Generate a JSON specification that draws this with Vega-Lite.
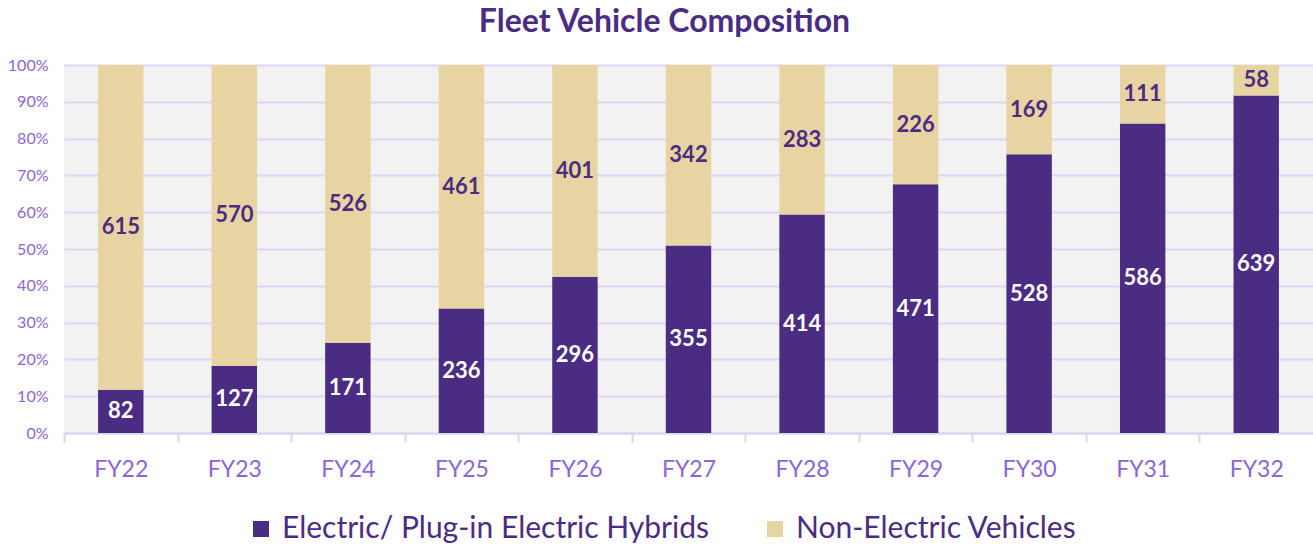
{
  "$schema": "https://vega.github.io/schema/vega-lite/v6.json",
  "width": 1249,
  "height": 368,
  "autosize": {"type": "none"},
  "padding": {"left": 64, "top": 65, "right": 0, "bottom": 112},
  "background": "white",
  "title": {
    "text": "Fleet Vehicle Composition",
    "font": "Lato",
    "fontSize": 32,
    "fontWeight": "bold",
    "color": "#4B2C83",
    "anchor": "middle",
    "dx": -24,
    "offset": 18
  },
  "config": {
    "view": {"fill": "#f2f2f2", "stroke": null},
    "font": "Lato"
  },
  "data": {
    "values": [
      {"year": "FY22", "type": "Electric/ Plug-in Electric Hybrids", "count": 82},
      {"year": "FY22", "type": "Non-Electric Vehicles", "count": 615},
      {"year": "FY23", "type": "Electric/ Plug-in Electric Hybrids", "count": 127},
      {"year": "FY23", "type": "Non-Electric Vehicles", "count": 570},
      {"year": "FY24", "type": "Electric/ Plug-in Electric Hybrids", "count": 171},
      {"year": "FY24", "type": "Non-Electric Vehicles", "count": 526},
      {"year": "FY25", "type": "Electric/ Plug-in Electric Hybrids", "count": 236},
      {"year": "FY25", "type": "Non-Electric Vehicles", "count": 461},
      {"year": "FY26", "type": "Electric/ Plug-in Electric Hybrids", "count": 296},
      {"year": "FY26", "type": "Non-Electric Vehicles", "count": 401},
      {"year": "FY27", "type": "Electric/ Plug-in Electric Hybrids", "count": 355},
      {"year": "FY27", "type": "Non-Electric Vehicles", "count": 342},
      {"year": "FY28", "type": "Electric/ Plug-in Electric Hybrids", "count": 414},
      {"year": "FY28", "type": "Non-Electric Vehicles", "count": 283},
      {"year": "FY29", "type": "Electric/ Plug-in Electric Hybrids", "count": 471},
      {"year": "FY29", "type": "Non-Electric Vehicles", "count": 226},
      {"year": "FY30", "type": "Electric/ Plug-in Electric Hybrids", "count": 528},
      {"year": "FY30", "type": "Non-Electric Vehicles", "count": 169},
      {"year": "FY31", "type": "Electric/ Plug-in Electric Hybrids", "count": 586},
      {"year": "FY31", "type": "Non-Electric Vehicles", "count": 111},
      {"year": "FY32", "type": "Electric/ Plug-in Electric Hybrids", "count": 639},
      {"year": "FY32", "type": "Non-Electric Vehicles", "count": 58}
    ]
  },
  "encoding": {
    "x": {
      "field": "year",
      "type": "nominal",
      "sort": null,
      "scale": {"paddingInner": 0.6, "paddingOuter": 0.3},
      "axis": {
        "title": null,
        "labelAngle": 0,
        "labelFont": "Lato",
        "labelFontSize": 23,
        "labelColor": "#8A66D6",
        "labelPadding": 16,
        "ticks": true,
        "tickSize": 9,
        "tickOffset": -56.75,
        "labelOffset": 56.75,
        "tickColor": "#dcd4ee",
        "tickWidth": 2,
        "domainColor": "#dcd4ee",
        "domainWidth": 2,
        "grid": false
      }
    }
  },
  "layer": [
    {
      "mark": {"type": "bar"},
      "encoding": {
        "y": {
          "field": "count",
          "type": "quantitative",
          "stack": "normalize",
          "scale": {"domain": [0, 1], "nice": false},
          "axis": {
            "title": null,
            "format": ".0%",
            "values": [0, 0.1, 0.2, 0.3, 0.4, 0.5, 0.6, 0.7, 0.8, 0.9, 1],
            "labelOverlap": false,
            "labelFont": "Lato",
            "labelFontSize": 16,
            "labelColor": "#8A66D6",
            "labelPadding": 16,
            "ticks": false,
            "domain": false,
            "grid": true,
            "gridColor": "#ddd5f0",
            "gridWidth": 2
          }
        },
        "order": {"field": "type", "sort": "ascending"},
        "color": {
          "field": "type",
          "type": "nominal",
          "scale": {
            "domain": ["Electric/ Plug-in Electric Hybrids", "Non-Electric Vehicles"],
            "range": ["#4B2C83", "#E8D4A2"]
          },
          "legend": {
            "title": null,
            "orient": "none",
            "direction": "horizontal",
            "legendX": 182,
            "legendY": 449,
            "symbolType": "square",
            "symbolSize": 256,
            "symbolStrokeWidth": 0,
            "symbolOpacity": 1,
            "labelFont": "Lato",
            "labelFontSize": 30,
            "labelColor": "#4B2C83",
            "labelOffset": 6,
            "columnPadding": 50,
            "labelLimit": 600
          }
        }
      }
    },
    {
      "transform": [
        {"stack": "count", "groupby": ["year"], "sort": [{"field": "type"}], "offset": "normalize", "as": ["y0", "y1"]},
        {"fold": ["y0", "y1"], "as": ["k", "v"]}
      ],
      "mark": {"type": "text", "font": "Lato", "fontSize": 22, "fontWeight": "bold", "baseline": "middle", "align": "center"},
      "encoding": {
        "y": {
          "field": "v",
          "type": "quantitative",
          "aggregate": "mean",
          "axis": {
            "title": null,
            "format": ".0%",
            "values": [0, 0.1, 0.2, 0.3, 0.4, 0.5, 0.6, 0.7, 0.8, 0.9, 1],
            "labelOverlap": false,
            "labelFont": "Lato",
            "labelFontSize": 16,
            "labelColor": "#8A66D6",
            "labelPadding": 16,
            "ticks": false,
            "domain": false,
            "grid": true,
            "gridColor": "#ddd5f0",
            "gridWidth": 2
          }
        },
        "detail": {"field": "type", "type": "nominal"},
        "text": {"field": "count", "type": "quantitative"},
        "color": {
          "condition": {"test": "datum.type === 'Non-Electric Vehicles'", "value": "#4B2C83"},
          "value": "#ffffff"
        }
      }
    }
  ]
}
